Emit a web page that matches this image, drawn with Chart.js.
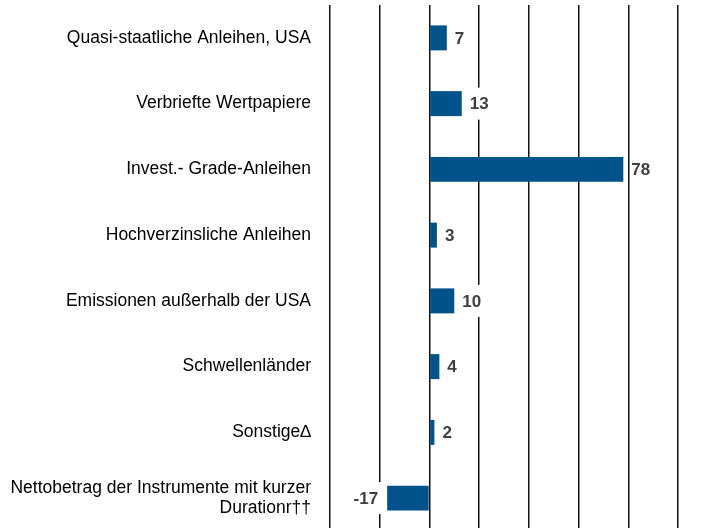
<!DOCTYPE html>
<html>
<head>
<meta charset="utf-8">
<script src="https://cdn.jsdelivr.net/npm/chart.js@4.4.1/dist/chart.umd.min.js"></script>
<style>
  html, body { margin: 0; padding: 0; background: #fff; overflow: hidden; }
  #wrap { width: 710px; height: 528px; overflow: hidden; position: relative; }
  canvas { display: block; }
</style>
</head>
<body>
<div id="wrap"><canvas id="c" width="710" height="531"></canvas></div>
<script>
const categories = [
  "Quasi-staatliche Anleihen, USA",
  "Verbriefte Wertpapiere",
  "Invest.- Grade-Anleihen",
  "Hochverzinsliche Anleihen",
  "Emissionen außerhalb der USA",
  "Schwellenländer",
  "Sonstige∆",
  ["Nettobetrag der Instrumente mit kurzer", "Durationr††"]
];
const values = [7, 13, 78, 3, 10, 4, 2, -17];
const axisMin = -40;
const axisMax = 100;
const axisStep = 20;

const family = '"Liberation Sans", Arial, sans-serif';
const labelSize = 17.5;
const valueSize = 17;

const valueLabels = {
  id: 'valueLabels',
  afterDatasetsDraw(chart) {
    const ctx = chart.ctx;
    const meta = chart.getDatasetMeta(0);
    ctx.save();
    ctx.font = 'bold ' + valueSize + 'px ' + family;
    ctx.textBaseline = 'middle';
    meta.data.forEach((bar, i) => {
      const v = values[i];
      const txt = String(v);
      const w = ctx.measureText(txt).width;
      let left;
      if (v >= 0) left = bar.x + 8; else left = bar.x - 9 - w;
      ctx.fillStyle = '#ffffff';
      ctx.fillRect(left - 1, bar.y - 16, w + 5, 32);
      ctx.fillStyle = '#404040';
      ctx.textAlign = 'left';
      ctx.fillText(txt, left, bar.y + 1);
    });
    ctx.restore();
  }
};

new Chart(document.getElementById('c'), {
  type: 'bar',
  data: {
    labels: categories,
    datasets: [{
      data: values,
      backgroundColor: '#00538a',
      borderWidth: 0,
      categoryPercentage: 1,
      barPercentage: 0.38
    }]
  },
  options: {
    indexAxis: 'y',
    responsive: false,
    animation: false,
    devicePixelRatio: 1,
    layout: { padding: { top: 5, right: 32, bottom: 0, left: 0 } },
    plugins: { legend: { display: false }, tooltip: { enabled: false } },
    scales: {
      x: {
        min: axisMin,
        max: axisMax,
        ticks: { display: false, stepSize: axisStep, padding: 0 },
        grid: { color: '#111111', lineWidth: 1.5, drawTicks: false },
        border: { display: false },
        afterFit(scale) {
          scale.height = 0;
          scale.paddingLeft = 0; scale.paddingRight = 0;
        }
      },
      y: {
        ticks: {
          font: { family: family, size: labelSize, lineHeight: 1.15 },
          color: '#000000',
          padding: 19,
          autoSkip: false
        },
        grid: { display: false, drawTicks: false },
        border: { display: false },
        afterFit(scale) {
          scale.width = 330;
          scale.paddingTop = 0; scale.paddingBottom = 0;
        }
      }
    }
  },
  plugins: [valueLabels]
});
</script>
</body>
</html>
